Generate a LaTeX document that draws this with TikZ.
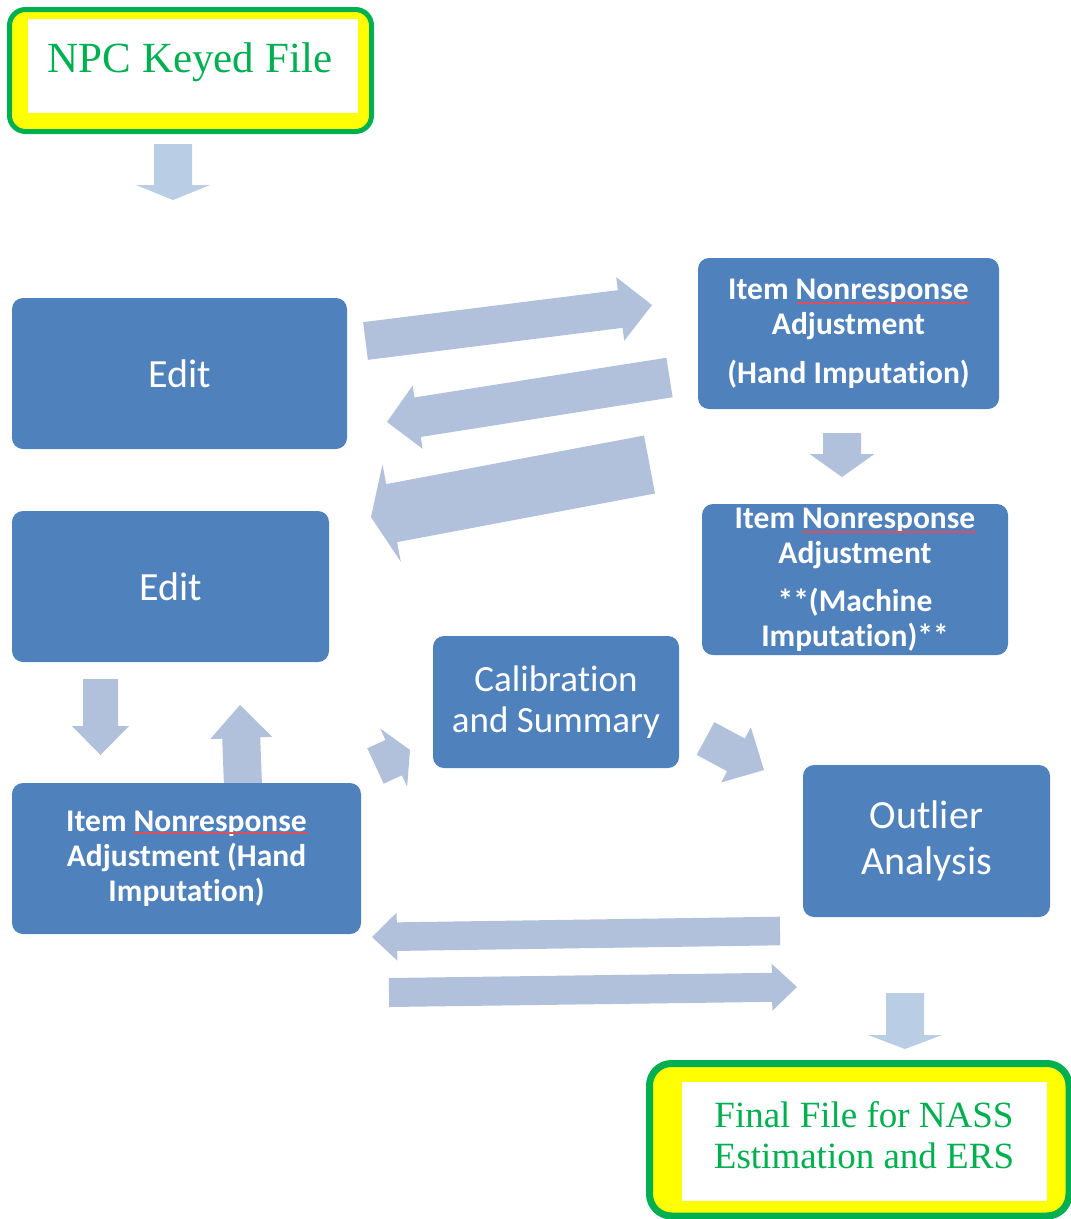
\documentclass[tikz,border=0pt]{standalone}
\usepackage{fontspec}
\setmainfont{Carlito}[Ligatures=NoCommon]
\newfontfamily\tnr{Liberation Serif}
\usetikzlibrary{calc}
\definecolor{boxblue}{HTML}{4F81BD}
\definecolor{arrcol}{HTML}{B2C1DB}
\definecolor{arrcolb}{HTML}{B9CDE5}
\definecolor{npcgreen}{HTML}{00B050}
\definecolor{npcyellow}{HTML}{FFFF00}
\definecolor{squig}{HTML}{D9505F}
\newcommand{\blkarrow}[6][arr]{%
  \coordinate (ba-t) at (#2);
  \coordinate (ba-p) at (#3);
  \coordinate (ba-h) at ($(ba-p)!#6!(ba-t)$);
  \fill[#1] ($(ba-t)!#4!90:(ba-p)$) -- ($(ba-h)!#4!90:(ba-p)$) -- ($(ba-h)!#5!90:(ba-p)$)
    -- (ba-p) -- ($(ba-h)!#5!-90:(ba-p)$) -- ($(ba-h)!#4!-90:(ba-p)$)
    -- ($(ba-t)!#4!-90:(ba-p)$) -- cycle;
}
\tikzset{
  arr/.style={fill=arrcol},
  arrb/.style={fill=arrcolb},
  bluebox/.style={rectangle, fill=boxblue, rounded corners=11pt, inner sep=0pt,
    text=white, align=center},
  plainbig/.style={font=\fontsize{40}{46}\selectfont},
  boldtxt/.style={font=\bfseries\fontsize{31.5}{35}\selectfont},
  serifgreen/.style={text=npcgreen, inner sep=0pt, anchor=base},
  spellline/.style={draw=squig, line width=1.2pt}
}
\begin{document}
\begin{tikzpicture}[x=1pt,y=-1pt]
\useasboundingbox (0,0) rectangle (1071,1219);
\fill[white] (0,0) rectangle (1071,1219);

% block arrows
\blkarrow[arrb]{173,144}{173,200}{19pt}{37pt}{15pt}
\blkarrow{365.5,341}{652,305}{19pt}{32pt}{32pt}
\blkarrow{669.5,377.5}{387,422}{20pt}{32pt}{31pt}
\blkarrow{649.5,464.5}{371,517}{29.5pt}{49.5pt}{21pt}
\blkarrow{842,433}{842,477}{19pt}{32.5pt}{23pt}
\blkarrow{100.5,679}{100.5,755}{17.5pt}{28.5pt}{29pt}
\blkarrow{243,786}{240,705}{19pt}{31pt}{33pt}
\blkarrow{375.5,766}{410,750}{19.5pt}{32pt}{18pt}
\blkarrow{705.5,738.5}{764,770}{18.6pt}{31.3pt}{31.8pt}
\blkarrow{780,931}{372,937}{14.3pt}{24pt}{25pt}
\blkarrow{389,992.5}{797,987}{14.5pt}{23.5pt}{25pt}
\blkarrow[arrb]{905,993}{905,1049}{19pt}{37pt}{14pt}

% NPC keyed file box
\draw[npcgreen, line width=5pt, fill=npcyellow, rounded corners=16pt] (9.5,9.5) rectangle (371.5,131.5);
\fill[white] (28,19) rectangle (358,113);
\node[serifgreen, font=\tnr\fontsize{43}{48}\selectfont] (npc) at (190,72) {NPC Keyed File};

% Final file box
\draw[npcgreen, line width=7pt, fill=npcyellow, rounded corners=22pt] (649.5,1063.5) rectangle (1069,1216);
\fill[white] (682,1082) rectangle (1047,1201);
\node[serifgreen, font=\tnr\fontsize{37}{41}\selectfont] (fin1) at (864,1127) {Final File for NASS};
\node[serifgreen, font=\tnr\fontsize{37}{41}\selectfont] (fin2) at (864,1168) {Estimation and ERS};

% blue boxes
\node[bluebox, plainbig, minimum width=335pt, minimum height=151pt] (edit1) at (179.5,373.5) {Edit};
\node[bluebox, plainbig, minimum width=317pt, minimum height=151pt] (edit2) at (170.5,586.5) {Edit};
\node[bluebox, boldtxt, minimum width=301pt, minimum height=151pt] (ina1) at (848.5,333.5)
  {Item Nonresponse\\Adjustment\\[14pt](Hand Imputation)};
\node[bluebox, boldtxt, minimum width=306pt, minimum height=151pt] (ina2) at (855,579.5)
  {Item Nonresponse\\Adjustment\\[13pt]**(Machine\\Imputation)**};
\node[bluebox, boldtxt, minimum width=349pt, minimum height=151pt] (inab) at (186.5,858.5)
  {Item Nonresponse\\Adjustment (Hand\\Imputation)};
\node[bluebox, font=\fontsize{37}{41}\selectfont, minimum width=246pt, minimum height=132pt] (calib) at (556,702)
  {Calibration\\and Summary};
\node[bluebox, plainbig, minimum width=247pt, minimum height=152pt] (outl) at (926.5,841)
  {Outlier\\Analysis};

% spell-check underlines
\draw[spellline] (797,303) -- (970,303);
\draw[spellline] (802,532) -- (976,532);
\draw[spellline] (134,833) -- (308,833);
\end{tikzpicture}
\end{document}
